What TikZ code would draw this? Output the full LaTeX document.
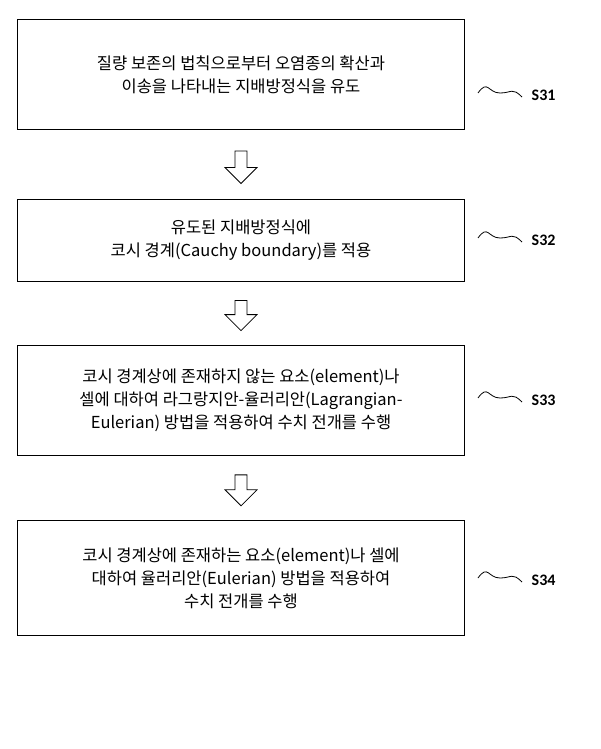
\documentclass[tikz,border=0pt]{standalone}
\usepackage{fontspec}
\setmainfont{Carlito}
\newfontfamily\kr{Noto Sans CJK KR}
\begin{document}
\begin{tikzpicture}[x=1pt,y=-1pt,
  boxs/.style={draw,line width=1pt,minimum width=447pt,align=center,font=\kr\fontsize{16.5}{23}\selectfont,inner sep=0pt},
  lbl/.style={font=\fontsize{16}{18}\selectfont\bfseries,anchor=west}]
\useasboundingbox (0,0) rectangle (600,749);
\node[boxs,minimum height=110pt] (b1) at (241,75) {질량 보존의 법칙으로부터 오염종의 확산과\\이송을 나타내는 지배방정식을 유도};
\node[boxs,minimum height=82pt] (b2) at (241,240) {유도된 지배방정식에\\코시 경계(Cauchy boundary)를 적용};
\node[boxs,minimum height=110pt] (b3) at (241,400) {코시 경계상에 존재하지 않는 요소(element)나\\셀에 대하여 라그랑지안-율러리안(Lagrangian-\\Eulerian) 방법을 적용하여 수치 전개를 수행};
\node[boxs,minimum height=115pt] (b4) at (241,578) {코시 경계상에 존재하는 요소(element)나 셀에\\대하여 율러리안(Eulerian) 방법을 적용하여\\수치 전개를 수행};
\foreach \a/\b in {b1/b2,b2/b3,b3/b4}{
  \path (\a.south) -- (\b.north) coordinate[pos=0.3] (t) coordinate[pos=0.78] (h);
  \draw[line width=0.8pt] ([xshift=-6pt]t) -- ([xshift=6pt]t) -- ([xshift=6pt,yshift=16pt]h) -- ([xshift=16pt,yshift=16pt]h) -- (h) -- ([xshift=-16pt,yshift=16pt]h) -- ([xshift=-6pt,yshift=16pt]h) -- cycle;
}
\foreach \n/\y/\s in {1/93/S31,2/238/S32,3/398/S33,4/578/S34}{
  \coordinate (w\n) at (478,\y);
  \draw[line width=0.8pt] (w\n) .. controls +(10,-14) and +(-12,0) .. ++(22,0) .. controls +(12,0) and +(-10,-10) .. ++(22,4) node[lbl,xshift=6pt,yshift=2pt] (s\n) {\s};
}
\end{tikzpicture}
\end{document}
